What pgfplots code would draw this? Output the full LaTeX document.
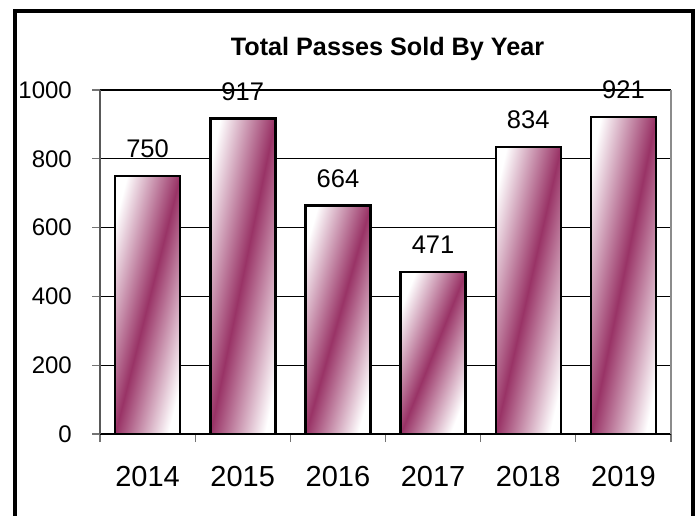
\documentclass[border=0pt]{standalone}
\usepackage{pgfplots}
\pgfplotsset{compat=1.18}
\usepackage{fontspec}
\setmainfont{Liberation Sans}
\definecolor{plum}{RGB}{153,51,102}
\pgfplotsset{barsty/.style={ybar, bar width=0.683, bar shift=0pt, draw=black, line width=2.5bp,
  left color=white, right color=white, middle color=plum, shading angle=#1,
  nodes near coords,
  every node near coord/.append style={font=\fontsize{25.5bp}{27bp}\selectfont, text=black, inner sep=0pt, anchor=south, yshift=17bp}}}
\begin{document}
\begin{tikzpicture}
\path[use as bounding box] (0,0) rectangle (697bp,516bp);
\begin{axis}[
  at={(100bp,82bp)}, anchor=south west,
  scale only axis, width=571bp, height=344bp,
  xmin=-0.5, xmax=5.5, ymin=0, ymax=1000,
  ybar, bar width=0.683,
  axis x line*=bottom, axis y line*=left,
  x axis line style={-, black, line width=1.2bp},
  y axis line style={-, black!65, line width=1.6bp},
  xtick={-0.5,0.5,...,5.5},
  x tick label as interval,
  xticklabels={2014,2015,2016,2017,2018,2019},
  ytick={0,200,...,1000},
  tick align=outside, major tick length=8bp,
  tick style={black!55, line width=1.2bp},
  ymajorgrids, grid style={black, line width=1.1bp},
  /pgf/number format/assume math mode=true,
  /pgf/number format/1000 sep={},
  xticklabel style={font=\fontsize{29bp}{31bp}\selectfont, inner sep=0pt, anchor=north, yshift=-24bp},
  yticklabel style={font=\fontsize{24bp}{26bp}\selectfont, inner sep=0pt, anchor=east, xshift=-20bp},
  clip=false,
]
\addplot[barsty=75.86] coordinates {(0,750)};
\addplot[barsty=78.36] coordinates {(1,917)};
\addplot[barsty=74.12] coordinates {(2,664)};
\addplot[barsty=68.15] coordinates {(3,471)};
\addplot[barsty=77.24] coordinates {(4,834)};
\addplot[barsty=78.41] coordinates {(5,921)};
\draw[black!45, line width=1.4bp] (rel axis cs:1,0) -- (rel axis cs:1,1);
\end{axis}
\node[anchor=base, font=\bfseries\fontsize{25.2bp}{27bp}\selectfont] at (387.5bp,460bp) {Total Passes Sold By Year};
\draw[line width=4bp, line join=miter] (15bp,-10bp) -- (15bp,504.5bp) -- (693bp,504.5bp) -- (693bp,-10bp);
\end{tikzpicture}
\end{document}
